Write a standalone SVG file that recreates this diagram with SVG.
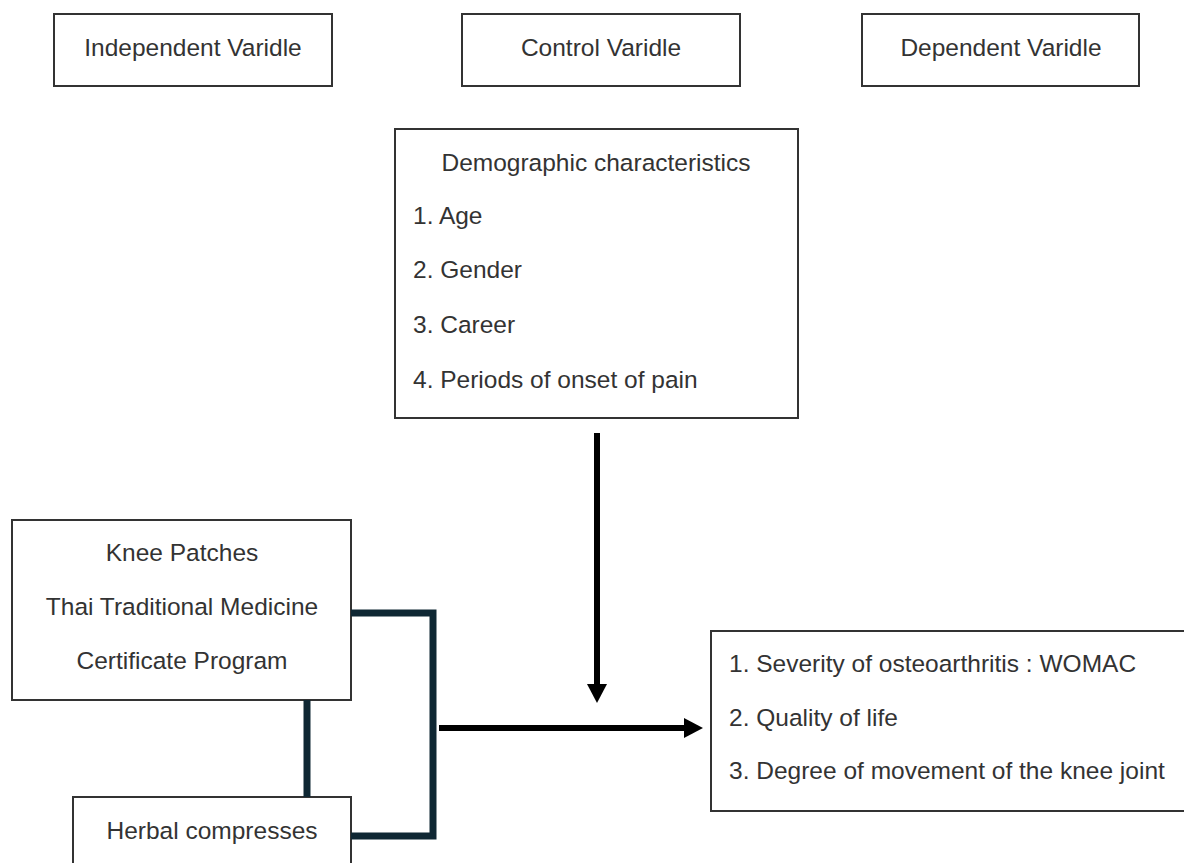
<svg xmlns="http://www.w3.org/2000/svg" width="1184" height="863" viewBox="0 0 1184 863">
<style>
.box{fill:#fff;stroke:#333;stroke-width:2}
.t{font-family:"Liberation Sans",Arial,sans-serif;font-size:24.5px;fill:#333}
.c{text-anchor:middle}
.br{fill:none;stroke:#0f2733;stroke-width:7}
.ar{fill:none;stroke:#000;stroke-width:6}
</style>
<rect width="1184" height="863" fill="#fff"/>
<g id="independent-header">
<rect class="box" x="54" y="14" width="278" height="72"/>
<text class="t c" x="193" y="56">Independent Varidle</text>
</g>
<g id="control-header">
<rect class="box" x="462" y="14" width="278" height="72"/>
<text class="t c" x="601" y="56">Control Varidle</text>
</g>
<g id="dependent-header">
<rect class="box" x="862" y="14" width="277" height="72"/>
<text class="t c" x="1001" y="56">Dependent Varidle</text>
</g>
<g id="demographic">
<rect class="box" x="395" y="129" width="403" height="289"/>
<text class="t c" x="596" y="171">Demographic characteristics</text>
<text class="t" x="413" y="224">1. Age</text>
<text class="t" x="413" y="278">2. Gender</text>
<text class="t" x="413" y="333">3. Career</text>
<text class="t" x="413" y="388">4. Periods of onset of pain</text>
</g>
<g id="knee-patches">
<rect class="box" x="12" y="520" width="339" height="180"/>
<text class="t c" x="182" y="561">Knee Patches</text>
<text class="t c" x="182" y="615">Thai Traditional Medicine</text>
<text class="t c" x="182" y="669">Certificate Program</text>
</g>
<g id="herbal">
<rect class="box" x="73" y="797" width="278" height="90"/>
<text class="t c" x="212" y="839">Herbal compresses</text>
</g>
<g id="outcomes">
<rect class="box" x="711" y="631" width="490" height="180"/>
<text class="t" x="729" y="672">1. Severity of osteoarthritis : WOMAC</text>
<text class="t" x="729" y="726">2. Quality of life</text>
<text class="t" x="729" y="779">3. Degree of movement of the knee joint</text>
</g>
<g id="connectors">
<path class="br" d="M351,613 H433 V836 H351"/>
<line class="br" x1="307" y1="700" x2="307" y2="797"/>
<line class="ar" x1="597" y1="433" x2="597" y2="686"/>
<polygon points="587,684 607,684 597,703" fill="#000"/>
<line class="ar" x1="439" y1="728" x2="686" y2="728"/>
<polygon points="684,718 684,738 703,728" fill="#000"/>
</g>
</svg>
